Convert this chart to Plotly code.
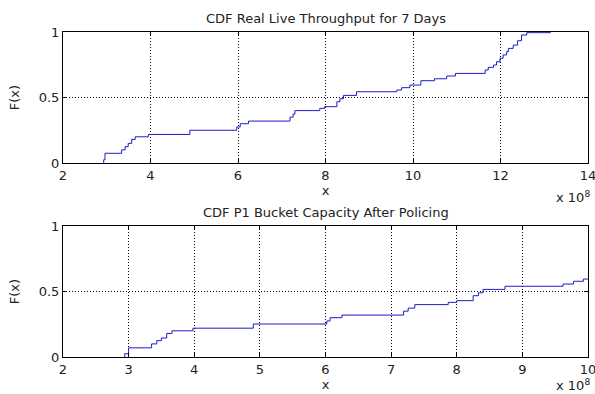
import plotly.graph_objects as go

# ---- data (x in units of 1e8) ----
x_top = [2.92, 2.93, 2.96, 3.34, 3.42, 3.49, 3.57, 3.65, 3.95, 4.90, 5.97, 6.05, 6.24,
         7.19, 7.26, 7.30, 7.87, 7.98, 8.26, 8.33, 8.41, 8.71, 9.63, 9.74, 9.93, 10.18,
         10.49, 10.77, 10.97, 11.65, 11.72, 11.84, 11.91, 11.99, 12.06, 12.14, 12.18,
         12.29, 12.39, 12.48, 12.60, 13.15]
F_top = [0.0, 0.025, 0.074, 0.10, 0.125, 0.15, 0.18, 0.20, 0.218, 0.25, 0.275, 0.30, 0.32,
         0.35, 0.373, 0.40, 0.417, 0.43, 0.468, 0.49, 0.516, 0.544, 0.557, 0.575, 0.595, 0.628,
         0.643, 0.664, 0.684, 0.71, 0.73, 0.748, 0.773, 0.80, 0.825, 0.85, 0.875,
         0.90, 0.933, 0.977, 0.995, 0.995]

x_bot = [2.93, 2.94, 3.0, 3.35, 3.43, 3.50, 3.58, 3.66, 3.98, 4.90, 6.02, 6.07, 6.25,
         7.19, 7.26, 7.36, 7.87, 8.0, 8.25, 8.33, 8.40, 8.735, 9.62, 9.78, 9.93, 10.0]
F_bot = [0.0, 0.025, 0.07, 0.10, 0.125, 0.145, 0.18, 0.20, 0.22, 0.252, 0.275, 0.30, 0.32,
         0.35, 0.373, 0.40, 0.417, 0.43, 0.468, 0.49, 0.516, 0.54, 0.557, 0.578, 0.595, 0.595]

x_ticks_top = [2, 4, 6, 8, 10, 12, 14]
x_ticks_bot = [2, 3, 4, 5, 6, 7, 8, 9, 10]
y_ticks = [0, 0.5, 1]
y_tick_text = ["0", "0.5", "1"]

titles = ["CDF Real Live Throughput for 7 Days", "CDF P1 Bucket Capacity After Policing"]

FONT = "DejaVu Sans, Arial, sans-serif"
LINE = "#1c1cc8"
TXT = "#222"

fig = go.Figure()
fig.add_trace(go.Scatter(x=x_top, y=F_top, mode="lines", line=dict(color=LINE, width=1, shape="hv"),
                         xaxis="x", yaxis="y", showlegend=False))
fig.add_trace(go.Scatter(x=x_bot, y=F_bot, mode="lines", line=dict(color=LINE, width=1, shape="hv"),
                         xaxis="x2", yaxis="y2", showlegend=False))

common_axis = dict(showline=True, linecolor="black", linewidth=1, mirror="ticks",
                   ticks="inside", ticklen=4, tickcolor="black", showgrid=True,
                   gridcolor="black", gridwidth=1, griddash="1px,2px", zeroline=False,
                   ticklabeloverflow="allow", automargin=False,
                   tickfont=dict(family=FONT, size=13, color=TXT))

top_dom = [(357 - 163) / 325, 1.0]
bot_dom = [0.0, (357 - 226) / 325]

fig.update_layout(
    width=595, height=394,
    margin=dict(l=63, r=7, t=32, b=37, autoexpand=False),
    paper_bgcolor="white", plot_bgcolor="white",
    font=dict(family=FONT, size=13, color=TXT),
    xaxis=dict(common_axis, domain=[0, 1], range=[2, 14], tickvals=x_ticks_top, anchor="y",
               title=dict(text="x", standoff=4, font=dict(family=FONT, size=13, color=TXT))),
    yaxis=dict(common_axis, domain=top_dom, range=[0, 1], tickvals=y_ticks, ticktext=y_tick_text,
               anchor="x", title=dict(text="F(x)", standoff=16, font=dict(family=FONT, size=13, color=TXT))),
    xaxis2=dict(common_axis, domain=[0, 1], range=[2, 10], tickvals=x_ticks_bot, anchor="y2",
                title=dict(text="x", standoff=4, font=dict(family=FONT, size=13, color=TXT))),
    yaxis2=dict(common_axis, domain=bot_dom, range=[0, 1], tickvals=y_ticks, ticktext=y_tick_text,
                anchor="x2", title=dict(text="F(x)", standoff=16, font=dict(family=FONT, size=13, color=TXT))),
    annotations=[
        dict(text=titles[0], x=0.5, y=top_dom[1], xref="paper", yref="paper", xanchor="center",
             yanchor="bottom", yshift=4, showarrow=False, font=dict(family=FONT, size=13, color=TXT)),
        dict(text=titles[1], x=0.5, y=bot_dom[1], xref="paper", yref="paper", xanchor="center",
             yanchor="bottom", yshift=4, showarrow=False, font=dict(family=FONT, size=13, color=TXT)),
        dict(text="x 10<sup>8</sup>", x=1.0, y=top_dom[0], xref="paper", yref="paper", xanchor="right",
             yanchor="top", yshift=-24, xshift=4, showarrow=False, font=dict(family=FONT, size=13, color=TXT)),
        dict(text="x 10<sup>8</sup>", x=1.0, y=bot_dom[0], xref="paper", yref="paper", xanchor="right",
             yanchor="top", yshift=-18, xshift=4, showarrow=False, font=dict(family=FONT, size=13, color=TXT)),
    ],
)

fig.write_html("out.html")
